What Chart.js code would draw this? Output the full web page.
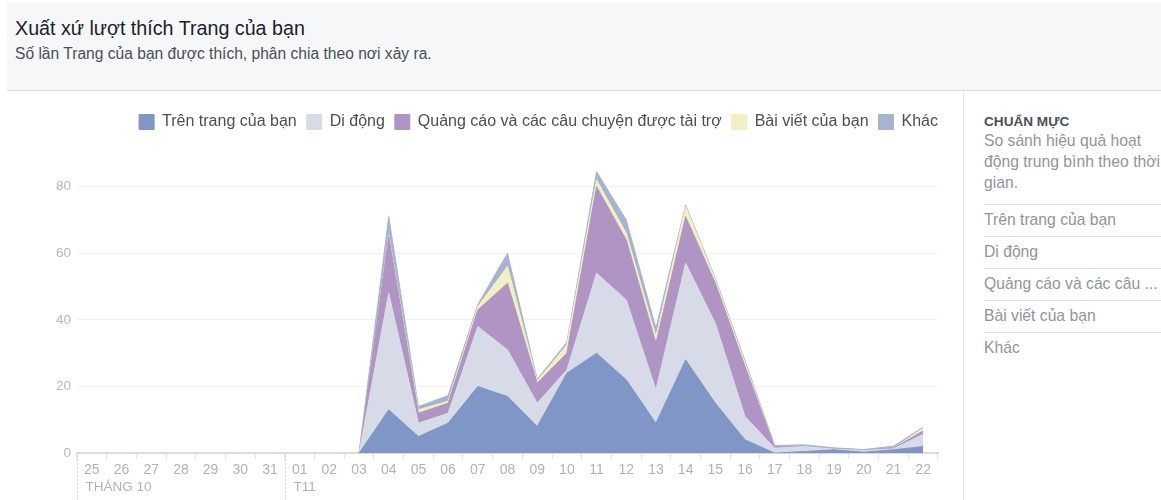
<!DOCTYPE html>
<html lang="vi">
<head>
<meta charset="utf-8">
<title>Xuất xứ lượt thích Trang của bạn</title>
<script src="https://cdn.jsdelivr.net/npm/chart.js@4.4.1/dist/chart.umd.min.js"></script>
<style>
  html, body { margin: 0; padding: 0; background: #fff; }
  body { width: 1161px; height: 500px; position: relative; overflow: hidden;
         font-family: 'Liberation Sans', Arial, Helvetica, sans-serif; }
  .header { position: absolute; left: 7px; top: 3px; right: 0; height: 87px;
            background: #f6f7f9; border-bottom: 1px solid #dddfe2; }
  .header h1 { margin: 0; position: absolute; left: 8px; top: 14px;
               font-size: 19.7px; font-weight: normal; color: #1d2129; }
  .header p { margin: 0; position: absolute; left: 8px; top: 42px;
              font-size: 15.6px; color: #4b4f56; }
  .chart-box { position: absolute; left: 0; top: 91px; width: 963px; height: 409px; }
  .side { position: absolute; left: 963px; top: 91px; width: 198px; height: 409px;
          border-left: 1px solid #e5e6e9; }
  .side h3 { margin: 0; position: absolute; left: 20px; top: 23px;
             font-size: 13.6px; font-weight: bold; color: #4b4f56; }
  .side .desc { position: absolute; left: 20px; top: 39px; width: 200px;
                font-size: 15.7px; line-height: 21px; color: #90949c; white-space: nowrap; }
  .side ul { list-style: none; margin: 0; padding: 0; position: absolute;
             left: 20px; top: 113px; width: 178px; }
  .side li { border-top: 1px solid #dddfe2; height: 31px; line-height: 29px;
             font-size: 15.7px; color: #90949c; white-space: nowrap; overflow: hidden; }
</style>
</head>
<body>
<div class="header">
  <h1>Xuất xứ lượt thích Trang của bạn</h1>
  <p>Số lần Trang của bạn được thích, phân chia theo nơi xảy ra.</p>
</div>
<div class="chart-box"><canvas id="likesChart"></canvas></div>
<div class="side">
  <h3>CHUẨN MỰC</h3>
  <div class="desc">So sánh hiệu quả hoạt<br>động trung bình theo thời<br>gian.</div>
  <ul>
    <li>Trên trang của bạn</li>
    <li>Di động</li>
    <li>Quảng cáo và các câu ...</li>
    <li>Bài viết của bạn</li>
    <li>Khác</li>
  </ul>
</div>
<script>
// days 25/10 .. 22/11
const days = ['25', '26', '27', '28', '29', '30', '31',
  '01', '02', '03', '04', '05', '06', '07', '08', '09', '10', '11',
  '12', '13', '14', '15', '16', '17', '18', '19', '20', '21', '22'];

// month captions under the axis, keyed by the index of the first day
const monthStarts = [0, 7];
const monthNames = ['THÁNG 10', 'T11'];

const seriesNames = ['Trên trang của bạn', 'Di động', 'Quảng cáo và các câu chuyện được tài trợ',
  'Bài viết của bạn', 'Khác'];
const seriesColors = ['#7f96c6', '#d7dbe8', '#b094c3', '#f2efc2', '#a8b4cf'];

const onPage = [0, 0, 0, 0, 0, 0, 0, 0, 0, 0,
  13, 5, 9, 20, 17, 8, 24, 30, 22, 9, 28, 15, 4, 0, 0.5, 1, 0.3, 1, 2];
const mobile = [0, 0, 0, 0, 0, 0, 0, 0, 0, 0,
  35, 4, 3, 18, 14, 7, 1, 24, 24, 10, 29, 24, 7, 1.5, 1.5, 0.2, 0.5, 0.3, 3.7];
const ads = [0, 0, 0, 0, 0, 0, 0, 0, 0, 0,
  17, 3, 3, 5, 20, 6, 5, 26, 18, 14, 14, 12, 15, 0.3, 0, 0, 0, 0.2, 1];
const posts = [0, 0, 0, 0, 0, 0, 0, 0, 0, 0,
  0.5, 1, 0.6, 1, 5, 0.7, 2.5, 2, 2, 2, 3, 1, 1, 0, 0, 0, 0, 0, 0.8];
const other = [0, 0, 0, 0, 0, 0, 0, 0, 0, 0,
  5.5, 1, 1.7, 0.6, 4, 0.5, 0.8, 2.5, 4, 2.5, 0.5, 0.5, 0.7, 0.5, 0.5, 0.4, 0.3, 0.6, 0.3];

const yTicks = [0, 20, 40, 60, 80];

const FONT = "'Liberation Sans', Arial, Helvetica, sans-serif";

// hide the outline where a layer has no thickness
const flatSegment = ctx =>
  (ctx.p0.parsed.y === 0 && ctx.p1.parsed.y === 0) ? 'transparent' : undefined;

const datasets = [onPage, mobile, ads, posts, other].map((values, i) => ({
  label: seriesNames[i],
  data: values,
  backgroundColor: seriesColors[i],
  borderColor: seriesColors[i],
  borderWidth: 1,
  pointRadius: 0,
  pointHoverRadius: 0,
  tension: 0,
  fill: i === 0 ? 'origin' : '-1',
  segment: { borderColor: flatSegment }
}));

// dashed month separators and month captions below the day labels
const monthMarks = {
  id: 'monthMarks',
  afterDraw(chart) {
    const x = chart.scales.x;
    const ctx = chart.ctx;
    const half = (x.getPixelForValue(1) - x.getPixelForValue(0)) / 2;
    ctx.save();
    monthStarts.forEach((idx, k) => {
      const left = Math.round(x.getPixelForValue(idx) - half) + 0.5;
      ctx.strokeStyle = '#c9ccd1';
      ctx.lineWidth = 1;
      ctx.setLineDash([2, 2]);
      ctx.beginPath();
      ctx.moveTo(left, chart.chartArea.bottom + 2);
      ctx.lineTo(left, chart.height);
      ctx.stroke();
      ctx.fillStyle = '#aeb2b9';
      ctx.font = '13.5px ' + FONT;
      ctx.textBaseline = 'middle';
      ctx.textAlign = 'left';
      ctx.fillText(monthNames[k], left + 8, chart.chartArea.bottom + 34);
    });
    ctx.restore();
  }
};

new Chart(document.getElementById('likesChart'), {
  type: 'line',
  data: { labels: days, datasets: datasets },
  plugins: [monthMarks],
  options: {
    responsive: true,
    maintainAspectRatio: false,
    animation: false,
    layout: { padding: { top: 13, left: 50, right: 15, bottom: 18 } },
    plugins: {
      tooltip: { enabled: false },
      legend: {
        position: 'top',
        align: 'end',
        labels: {
          boxWidth: 15,
          boxHeight: 15,
          padding: 10,
          color: '#4b4f56',
          font: { family: FONT, size: 16 }
        }
      }
    },
    scales: {
      x: {
        stacked: true,
        offset: true,
        grid: {
          display: true,
          offset: true,
          drawOnChartArea: false,
          tickLength: 6,
          color: '#dddfe2'
        },
        border: { display: true, color: '#dedad6', width: 2 },
        ticks: {
          autoSkip: false,
          maxRotation: 0,
          padding: 3,
          color: '#aeb2b9',
          font: { family: FONT, size: 14 }
        }
      },
      y: {
        stacked: true,
        min: 0,
        max: 94,
        afterBuildTicks: scale => { scale.ticks = yTicks.map(v => ({ value: v })); },
        afterFit: scale => { scale.width = 27; },
        grid: {
          drawTicks: false,
          color: ctx => ctx.tick && ctx.tick.value === 0 ? 'transparent' : '#f0f1f3'
        },
        border: { display: false },
        ticks: {
          padding: 6,
          color: '#b4b8be',
          font: { family: FONT, size: 13.5 }
        }
      },
      // empty gutter on the right so the legend reaches past the plot edge
      gutter: {
        type: 'linear',
        position: 'right',
        afterFit: scale => { scale.width = 10; },
        grid: { display: false },
        border: { display: false },
        ticks: { display: false }
      }
    }
  }
});
</script>
</body>
</html>
